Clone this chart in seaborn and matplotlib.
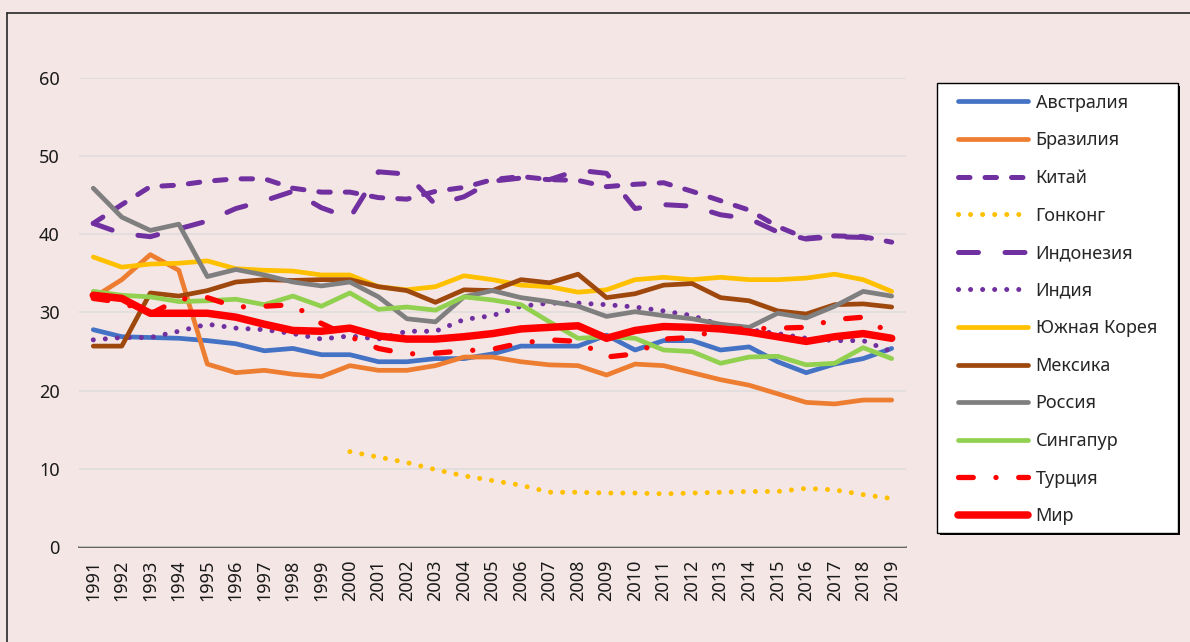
import numpy as np
import matplotlib
matplotlib.use("Agg")
import matplotlib.pyplot as plt
from matplotlib.lines import Line2D
from matplotlib.patches import Rectangle
import seaborn as sns

# data (share of GDP, %)
years = list(range(1991, 2020))
nan = np.nan

australia = [27.8, 26.9, 26.8, 26.7, 26.4, 26.0, 25.1, 25.4, 24.6, 24.6, 23.7, 23.7, 24.1, 24.1, 24.7,
             25.7, 25.7, 25.7, 27.1, 25.2, 26.4, 26.4, 25.2, 25.6, 23.7, 22.3, 23.4, 24.1, 25.4]
brazil = [31.9, 34.2, 37.4, 35.4, 23.4, 22.3, 22.6, 22.1, 21.8, 23.2, 22.6, 22.6, 23.2, 24.3, 24.3,
          23.7, 23.3, 23.2, 22.0, 23.4, 23.2, 22.3, 21.4, 20.7, 19.6, 18.5, 18.3, 18.8, 18.8]
china = [41.4, 43.8, 46.1, 46.3, 46.8, 47.1, 47.1, 45.9, 45.4, 45.4, 44.7, 44.5, 45.5, 46.0, 47.0,
         47.4, 47.0, 46.9, 46.1, 46.4, 46.6, 45.5, 44.3, 43.1, 41.0, 39.5, 39.8, 39.7, 39.0]
hong_kong = [nan, nan, nan, nan, nan, nan, nan, nan, nan, 12.2, 11.5, 10.8, 9.9, 9.1, 8.5,
             7.9, 7.0, 7.0, 6.9, 6.9, 6.8, 6.9, 7.0, 7.1, 7.1, 7.5, 7.3, 6.7, 6.2]
indonesia = [41.4, 40.1, 39.7, 40.7, 41.7, 43.3, 44.3, 45.5, 43.4, 42.1, 48.0, 47.7, 43.8, 44.8, 46.8,
             47.2, 47.0, 48.2, 47.8, 43.3, 43.8, 43.6, 42.5, 42.0, 40.3, 39.4, 39.7, 39.6, 38.8]
india = [26.5, 26.8, 26.8, 27.6, 28.5, 28.0, 27.8, 27.3, 26.6, 27.0, 26.6, 27.6, 27.6, 29.1, 29.6,
         30.8, 31.2, 31.2, 31.0, 30.7, 30.2, 29.6, 28.4, 27.8, 27.3, 26.7, 26.4, 26.4, 25.0]
south_korea = [37.1, 35.8, 36.2, 36.3, 36.6, 35.6, 35.4, 35.3, 34.8, 34.8, 33.3, 32.9, 33.3, 34.7, 34.2,
               33.5, 33.3, 32.6, 32.9, 34.2, 34.5, 34.2, 34.5, 34.2, 34.2, 34.4, 34.9, 34.2, 32.7]
mexico = [25.7, 25.7, 32.5, 32.1, 32.8, 33.9, 34.2, 34.1, 34.2, 34.2, 33.3, 32.8, 31.3, 32.9, 32.8,
          34.2, 33.8, 34.9, 31.9, 32.4, 33.5, 33.7, 31.9, 31.5, 30.2, 29.8, 31.0, 31.1, 30.7]
russia = [45.9, 42.2, 40.5, 41.3, 34.6, 35.5, 34.8, 33.9, 33.4, 33.9, 32.0, 29.2, 28.8, 32.0, 32.8,
          31.9, 31.4, 30.8, 29.5, 30.1, 29.6, 29.2, 28.5, 28.1, 29.9, 29.3, 30.8, 32.7, 32.1]
singapore = [32.7, 32.2, 32.0, 31.4, 31.5, 31.7, 31.0, 32.1, 30.8, 32.5, 30.4, 30.7, 30.3, 32.0, 31.6,
             31.0, 28.8, 26.7, 26.9, 26.7, 25.2, 25.0, 23.5, 24.3, 24.4, 23.3, 23.5, 25.5, 24.1]
turkey = [31.8, 31.3, 29.8, 31.7, 31.9, 30.7, 30.8, 31.0, 28.6, 26.9, 25.4, 24.7, 24.8, 25.1, 25.3,
          26.1, 26.5, 26.3, 24.3, 24.7, 26.6, 26.8, 27.9, 27.9, 28.0, 28.1, 29.1, 29.4, 27.2]
world = [32.2, 31.8, 29.9, 29.9, 29.9, 29.4, 28.5, 27.7, 27.6, 28.0, 27.0, 26.6, 26.6, 26.9, 27.3,
         27.9, 28.1, 28.3, 26.7, 27.7, 28.2, 28.1, 27.9, 27.5, 26.9, 26.3, 26.9, 27.3, 26.7]

labels = ["Австралия", "Бразилия", "Китай", "Гонконг", "Индонезия", "Индия",
          "Южная Корея", "Мексика", "Россия", "Сингапур", "Турция", "Мир"]
series = [australia, brazil, china, hong_kong, indonesia, india,
          south_korea, mexico, russia, singapore, turkey, world]

# styles
colors = ["#4472C4", "#ED7D31", "#7030A0", "#FFC000", "#7030A0", "#7030A0",
          "#FFC000", "#9E480E", "#7F7F7F", "#92D050", "#FF0000", "#FF0000"]
widths = [3.4, 3.4, 3.6, 3.6, 3.6, 3.6, 3.4, 3.4, 3.4, 3.4, 3.8, 5.4]
solid = "-"
styles = [solid, solid, (0, (2.3, 3.0)), (0, (0.01, 2.4)), (0, (4.0, 5.3)), (0, (0.01, 2.4)),
          solid, solid, solid, solid, (0, (2.8, 4.3, 0.01, 4.3)), solid]

bg = "#F5E6E6"
sns.set_theme(style="white")
plt.rcParams["font.family"] = ["Noto Sans", "DejaVu Sans"]

fig = plt.figure(figsize=(11.9, 6.42), dpi=100, facecolor=bg)
ax = fig.add_axes([0.0664, 0.148, 0.6949, 0.7305])
ax.set_facecolor(bg)

for name, vals, c, lw, ls in zip(labels, series, colors, widths, styles):
    sns.lineplot(x=years, y=vals, ax=ax, color=c, lw=lw, linestyle=ls,
                 dash_capstyle="round", solid_capstyle="round", solid_joinstyle="round",
                 label=name, estimator=None, sort=False)

ax.set_xlim(1990.5, 2019.5)
ax.set_ylim(0, 60)
ax.set_yticks(range(0, 61, 10))
ax.set_xticks(years)
ax.set_xticklabels([str(y) for y in years], rotation=90, fontsize=13, color="#1a1a1a")
ax.tick_params(axis="y", labelsize=13, labelcolor="#1a1a1a", pad=14, length=0)
ax.tick_params(axis="x", pad=9, length=0)
ax.grid(axis="y", color="#DDDCDC", lw=1.1)
ax.set_axisbelow(True)
for s in ["top", "right", "left"]:
    ax.spines[s].set_visible(False)
ax.spines["bottom"].set_color("#3a3a3a")
ax.spines["bottom"].set_linewidth(1.1)
ax.spines["bottom"].set_zorder(0.5)
ax.set_xlabel("")
ax.set_ylabel("")

# legend box with a dark drop shadow, drawn by hand
fig.add_artist(Rectangle((0.7874 + 0.0021, 0.1698 - 0.0039), 0.2025, 0.7009, transform=fig.transFigure,
                         facecolor="black", edgecolor="none", zorder=-2))
fig.add_artist(Rectangle((0.7874, 0.1698), 0.2025, 0.7009, transform=fig.transFigure,
                         facecolor="white", edgecolor="black", lw=1.0, zorder=-1))
ax.legend(loc="upper left", bbox_to_anchor=(0.805, 0.854), bbox_transform=fig.transFigure,
          fontsize=13, frameon=False, labelspacing=1.085, handlelength=3.9, handletextpad=0.4,
          borderpad=0, borderaxespad=0)

# chart area border (top and left edges visible)
fig.add_artist(Line2D([0.0059, 1.0], [0.9798, 0.9798], transform=fig.transFigure, color="#262626", lw=1.2))
fig.add_artist(Line2D([0.0059, 0.0059], [0.0, 0.9798], transform=fig.transFigure, color="#262626", lw=1.2))

fig.savefig("out.png", dpi=100, facecolor=bg)
